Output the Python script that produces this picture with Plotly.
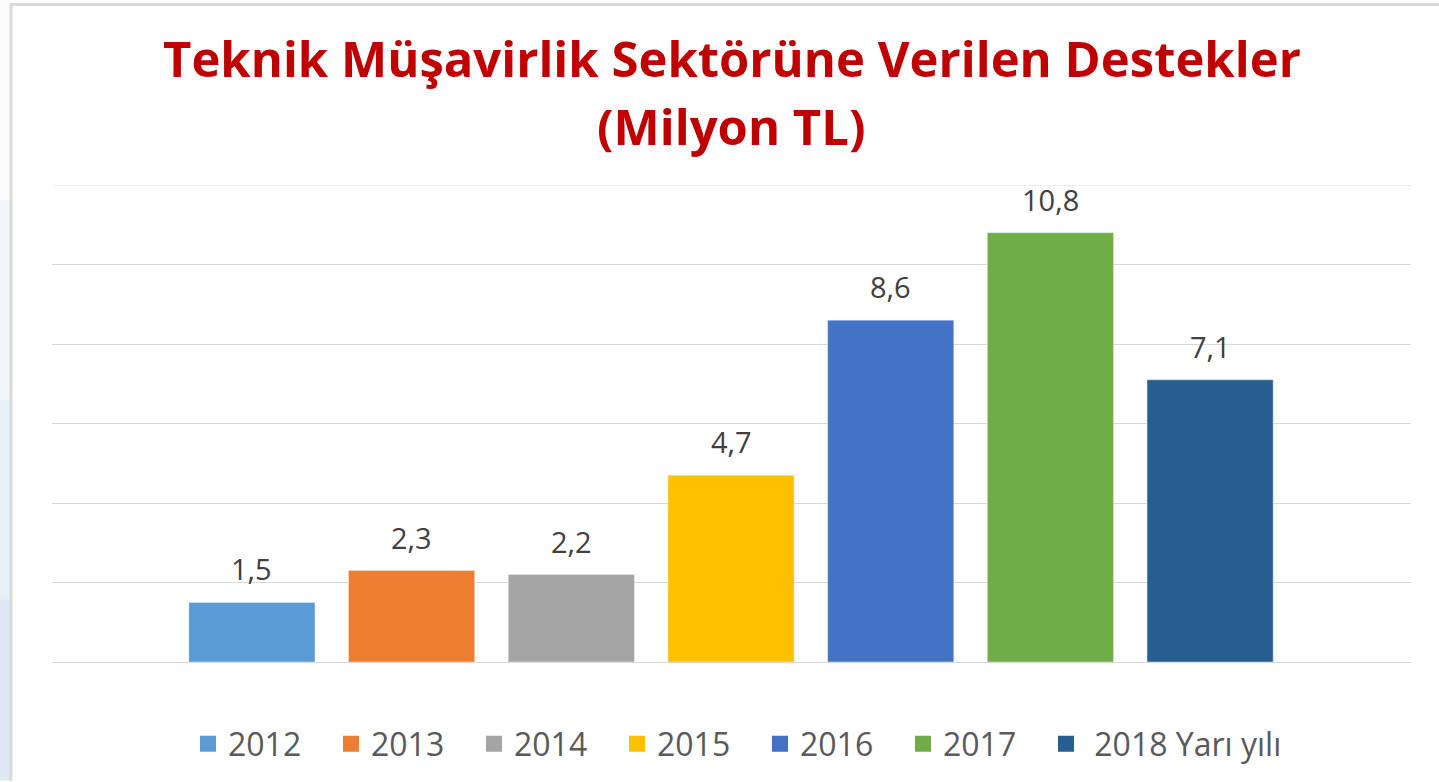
import plotly.graph_objects as go

categories = ["2012", "2013", "2014", "2015", "2016", "2017", "2018 Yarı yılı"]
values = [1.5, 2.3, 2.2, 4.7, 8.6, 10.8, 7.1]
colors = ["#5B9BD5", "#ED7D31", "#A5A5A5", "#FFC000", "#4472C4", "#70AD47", "#255E91"]
title_lines = ["Teknik Müşavirlik Sektörüne Verilen Destekler", "(Milyon TL)"]
y_max = 12
y_step = 2

W, H = 1439, 782
L, R, T, B = 52, 1411, 185, 663
pw, ph = R - L, B - T

def px(x):
    return (x - L) / pw

def py(y):
    return (B - y) / ph

fig = go.Figure()
for i, (c, v, col) in enumerate(zip(categories, values, colors)):
    fig.add_trace(go.Bar(x=[i], y=[v], marker_color=col, width=0.79,
                         showlegend=False, hoverinfo="skip"))
for k, (c, col) in enumerate(zip(categories, colors)):
    name = "\u00a0" + c if " " in c else c
    fig.add_trace(go.Scatter(x=[None], y=[None], mode="markers", name=name,
                             legend="legend2" if k == len(categories) - 1 else "legend",
                             marker=dict(symbol="square", size=20, color=col)))

annotations = []
for i, v in enumerate(values):
    annotations.append(dict(x=i, y=v, xref="x", yref="y", text=f"{v:.1f}".replace(".", ","),
                            showarrow=False, yanchor="bottom", yshift=12,
                            font=dict(family="Open Sans", size=29, color="#404040")))
for k, (t, yb) in enumerate(zip(title_lines, [58, 126])):
    annotations.append(dict(x=0.5, y=py(yb), xref="paper", yref="paper", text=f"<b>{t}</b>",
                            showarrow=False, yanchor="middle", xanchor="center",
                            font=dict(family="Open Sans", size=49, color="#C00000")))

shapes = []
steps = [(0, 200, "#fbfcfe"), (200, 400, "#f1f6fb"), (400, 600, "#e8f0f7"), (600, 782, "#dde8f2")]
for y0, y1, col in steps:
    shapes.append(dict(type="rect", xref="paper", yref="paper", x0=px(0), x1=px(10),
                       y0=py(y1), y1=py(y0), fillcolor=col, line_width=0, layer="below"))
shapes.append(dict(type="line", xref="paper", yref="paper", x0=px(11), x1=px(11),
                   y0=py(782), y1=py(4), line=dict(color="#d9d9d9", width=3)))
shapes.append(dict(type="line", xref="paper", yref="paper", x0=px(10), x1=px(1439),
                   y0=py(4), y1=py(4), line=dict(color="#d9d9d9", width=3)))
# top gridline (at the axis maximum)
shapes.append(dict(type="line", xref="paper", yref="y", x0=0, x1=1, y0=y_max, y1=y_max,
                   line=dict(color="#d9d9d9", width=1), layer="below"))

legend_font = dict(family="Open Sans", size=32, color="#595959")
fig.update_layout(
    width=W, height=H,
    margin=dict(l=L, r=W - R, t=T, b=H - B, pad=0),
    paper_bgcolor="white", plot_bgcolor="white",
    barmode="overlay",
    xaxis=dict(range=[-1.252, 7.258], showticklabels=False, showgrid=False,
               zeroline=False, showline=False, fixedrange=True),
    yaxis=dict(range=[0, y_max], dtick=y_step, showticklabels=False, showgrid=True,
               gridcolor="#d9d9d9", gridwidth=1, zeroline=True, zerolinecolor="#d9d9d9",
               zerolinewidth=1, showline=False, fixedrange=True),
    legend=dict(orientation="h", x=px(188), xanchor="left", y=py(744), yanchor="middle",
                font=legend_font, itemsizing="trace", traceorder="normal",
                entrywidth=98, entrywidthmode="pixels", bgcolor="rgba(0,0,0,0)"),
    legend2=dict(orientation="h", x=px(1046), xanchor="left", y=py(744), yanchor="middle",
                 font=legend_font, itemsizing="trace", bgcolor="rgba(0,0,0,0)"),
    annotations=annotations,
    shapes=shapes,
    font=dict(family="Open Sans"),
)

fig.write_html("out.html")
